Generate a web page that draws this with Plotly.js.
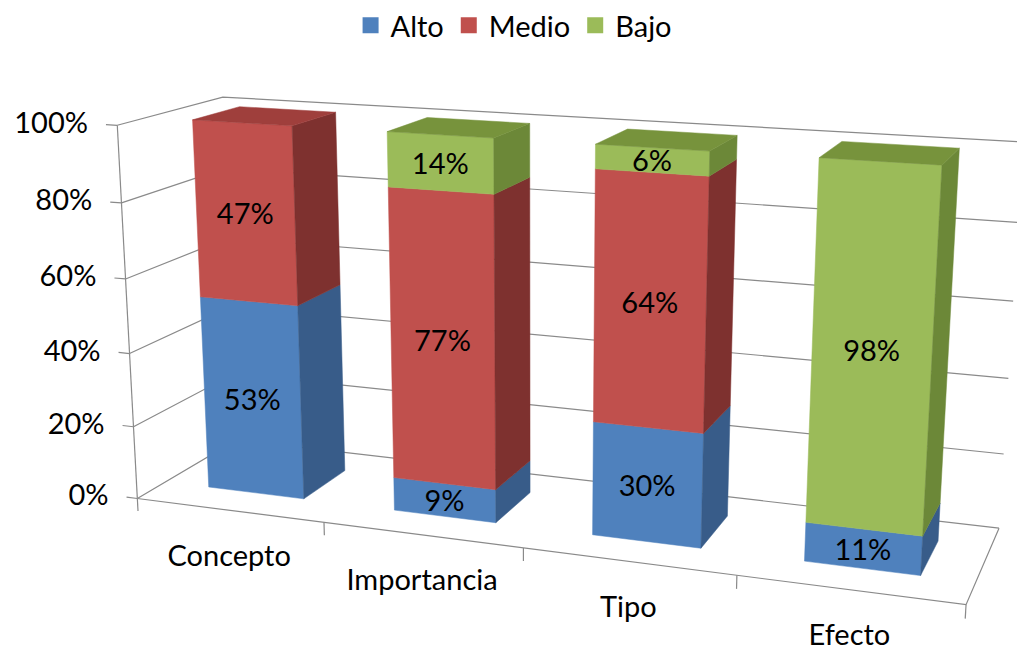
<!DOCTYPE html>
<html>
<head>
<meta charset="utf-8">
<script src="https://cdn.plot.ly/plotly-3.0.1.min.js"></script>
<style>html,body{margin:0;padding:0;background:#fff;}#chart{width:1017px;height:654px;}</style>
</head>
<body>
<div id="chart"></div>
<script>
// ---------------- data ----------------
const categories = ['Concepto', 'Importancia', 'Tipo', 'Efecto'];
const seriesNames = ['Alto', 'Medio', 'Bajo'];
const alto  = [53, 9, 30, 11];
const medio = [47, 77, 64, 0];
const bajo  = [0, 14, 6, 98];
const zTicks = [0, 20, 40, 60, 80, 100];
const zTickText = ['0%', '20%', '40%', '60%', '80%', '100%'];

// ---------------- styles ----------------
const W = 1017, H = 654;
const FONT = 'Lato, "Open Sans", sans-serif';
const FS = 29;
const colors = {
  Alto:  {front: '#4F81BD', side: '#385C89', top: '#4470A5'},
  Medio: {front: '#C0504D', side: '#7E312F', top: '#9F3F3C'},
  Bajo:  {front: '#9BBB59', side: '#6C8838', top: '#77933C'}
};
const gridColor = '#8A8A8A';
const halfW = 0.26, yFront = 0.27, yBack = 0.73;

// ---- 3D frame calibration (world: x=category, y=depth 0..1, z=0..100 -> paper px) ----
const calib = [
  [-0.5,0,0,140,499], [-0.5,0,20,133,425], [-0.5,0,40,129,353], [-0.5,0,60,125,279],
  [-0.5,0,80,121,203], [-0.5,0,100,116,126],
  [3.5,0,0,966,605], [0.5,0,0,325,523], [1.5,0,0,523,548],
  [3.5,1,0,999,528], [3.5,1,20,1004,454], [3.5,1,40,1008,378],
  [-0.5,1,100,225,97], [-0.5,1,0,234.5,440.5]
];
function solveLinear(A, b) {
  const n = b.length;
  const M = A.map((r, i) => r.concat([b[i]]));
  for (let c = 0; c < n; c++) {
    let p = c;
    for (let r = c + 1; r < n; r++) if (Math.abs(M[r][c]) > Math.abs(M[p][c])) p = r;
    [M[c], M[p]] = [M[p], M[c]];
    for (let r = 0; r < n; r++) {
      if (r === c) continue;
      const f = M[r][c] / M[c][c];
      for (let k = c; k <= n; k++) M[r][k] -= f * M[c][k];
    }
  }
  return M.map((r, i) => r[n] / r[i]);
}
const P = (function () {
  const rows = [], rhs = [];
  calib.forEach(([X, Y, Zr, u, v]) => {
    const Z = Zr / 100;
    rows.push([X, Y, Z, 1, 0, 0, 0, 0, -u * X, -u * Y, -u * Z]); rhs.push(u);
    rows.push([0, 0, 0, 0, X, Y, Z, 1, -v * X, -v * Y, -v * Z]); rhs.push(v);
  });
  const N = 11, AtA = [], Atb = [];
  for (let i = 0; i < N; i++) {
    AtA.push(new Array(N).fill(0)); Atb.push(0);
    for (let r = 0; r < rows.length; r++) {
      Atb[i] += rows[r][i] * rhs[r];
      for (let j = 0; j < N; j++) AtA[i][j] += rows[r][i] * rows[r][j];
    }
  }
  return solveLinear(AtA, Atb);
})();
function proj(x, y, z) {
  const Z = z / 100;
  const w = P[8] * x + P[9] * y + P[10] * Z + 1;
  return [(P[0] * x + P[1] * y + P[2] * Z + P[3]) / w,
          (P[4] * x + P[5] * y + P[6] * Z + P[7]) / w];
}

const traces = [];
function lineTrace(segments, color, width) {
  const xs = [], ys = [];
  segments.forEach(seg => {
    seg.forEach(p => { const q = proj(p[0], p[1], p[2]); xs.push(q[0]); ys.push(q[1]); });
    xs.push(null); ys.push(null);
  });
  return {type: 'scatter', mode: 'lines', x: xs, y: ys, line: {color: color, width: width},
          hoverinfo: 'skip', showlegend: false, connectgaps: false};
}

const xMin = -0.5, xMax = categories.length - 0.5;
// gridlines: left wall + back wall
traces.push(lineTrace(zTicks.map(z => [[xMin, 0, z], [xMin, 1, z], [xMax, 1, z]]), gridColor, 1.2));
// value axis line + ticks
traces.push(lineTrace([[[xMin, 0, 0], [xMin, 0, 100]]].concat(
  zTicks.map(z => [[xMin, 0, z], [xMin - 0.06, 0, z]])), gridColor, 1.2));
// floor outline + category boundary ticks
const bounds = categories.map((c, i) => i - 0.5).concat([xMax]);
traces.push(lineTrace([[[xMin, 0, 0], [xMax, 0, 0], [xMax, 1, 0]]].concat(
  bounds.map(b => [[b, 0, 0], [b, 0, -3.5]])), gridColor, 1.2));

// ---------------- bars (100% stacked) ----------------
const seriesValues = [alto, medio, bajo];
const totals = categories.map((c, i) => seriesValues.reduce((s, arr) => s + arr[i], 0));
const cum = categories.map(() => 0);
const topIndex = categories.map((c, i) => {
  let t = -1; seriesValues.forEach((arr, s) => { if (arr[i] > 0) t = s; }); return t;
});
const labX = [], labY = [], labT = [];
const faceTraces = [];
seriesValues.forEach((vals, si) => {
  const col = colors[seriesNames[si]];
  const faces = {front: [[], []], side: [[], []], top: [[], []]};
  function addPoly(kind, pts) {
    pts.forEach(p => { const q = proj(p[0], p[1], p[2]); faces[kind][0].push(q[0]); faces[kind][1].push(q[1]); });
    const q0 = proj(pts[0][0], pts[0][1], pts[0][2]);
    faces[kind][0].push(q0[0], null); faces[kind][1].push(q0[1], null);
  }
  vals.forEach((v, ci) => {
    if (!v) return;
    const z0 = cum[ci] / totals[ci] * 100;
    const z1 = (cum[ci] + v) / totals[ci] * 100;
    cum[ci] += v;
    const x0 = ci - halfW, x1 = ci + halfW;
    addPoly('front', [[x0, yFront, z0], [x1, yFront, z0], [x1, yFront, z1], [x0, yFront, z1]]);
    addPoly('side', [[x1, yFront, z0], [x1, yBack, z0], [x1, yBack, z1], [x1, yFront, z1]]);
    if (topIndex[ci] === si)
      addPoly('top', [[x0, yFront, z1], [x1, yFront, z1], [x1, yBack, z1], [x0, yBack, z1]]);
    const c = proj(ci, yFront, (z0 + z1) / 2);
    labX.push(c[0]); labY.push(c[1] + 4); labT.push(v + '%');
  });
  ['front', 'side', 'top'].forEach(kind => {
    if (!faces[kind][0].length) return;
    faceTraces.push({type: 'scatter', mode: 'lines', x: faces[kind][0], y: faces[kind][1],
      fill: 'toself', fillcolor: col[kind], line: {width: 0.5, color: col[kind]},
      connectgaps: false, hoverinfo: 'skip', showlegend: false, name: seriesNames[si]});
  });
});
faceTraces.forEach(t => traces.push(t));

// data labels
traces.push({type: 'scatter', mode: 'text', x: labX, y: labY, text: labT, textposition: 'middle center',
  textfont: {family: FONT, size: FS, color: '#000'}, hoverinfo: 'skip', showlegend: false});

// value-axis tick labels
const tl = zTicks.map(z => proj(xMin - 0.06, 0, z));
traces.push({type: 'scatter', mode: 'text', x: tl.map(p => p[0] - 18), y: tl.map(p => p[1] + 1), text: zTickText,
  textposition: 'middle left', textfont: {family: FONT, size: FS, color: '#000'}, hoverinfo: 'skip', showlegend: false});

// category labels
const cl = categories.map((c, i) => proj(i, 0, 0));
traces.push({type: 'scatter', mode: 'text', x: cl.map(p => p[0]), y: cl.map(p => p[1] + 48), text: categories,
  textposition: 'middle center', textfont: {family: FONT, size: FS, color: '#000'}, hoverinfo: 'skip', showlegend: false});

// legend entries
seriesNames.forEach(n => {
  traces.push({type: 'scatter', mode: 'markers', x: [null], y: [null], name: n,
    marker: {symbol: 'square', size: 16, color: colors[n].front, line: {width: 0}}, hoverinfo: 'skip'});
});

const layout = {
  width: W, height: H,
  margin: {l: 0, r: 0, t: 0, b: 0},
  paper_bgcolor: '#fff', plot_bgcolor: '#fff',
  font: {family: FONT, size: FS, color: '#000'},
  showlegend: true,
  legend: {orientation: 'h', x: 0.505, xanchor: 'center', y: 1.0, yanchor: 'top',
           font: {family: FONT, size: FS, color: '#000'}, itemwidth: 30, traceorder: 'normal',
           bgcolor: 'rgba(0,0,0,0)'},
  xaxis: {range: [0, W], visible: false, fixedrange: true},
  yaxis: {range: [H, 0], visible: false, fixedrange: true},
  hovermode: false
};

Plotly.newPlot('chart', traces, layout, {displayModeBar: false, staticPlot: true});
</script>
</body>
</html>
